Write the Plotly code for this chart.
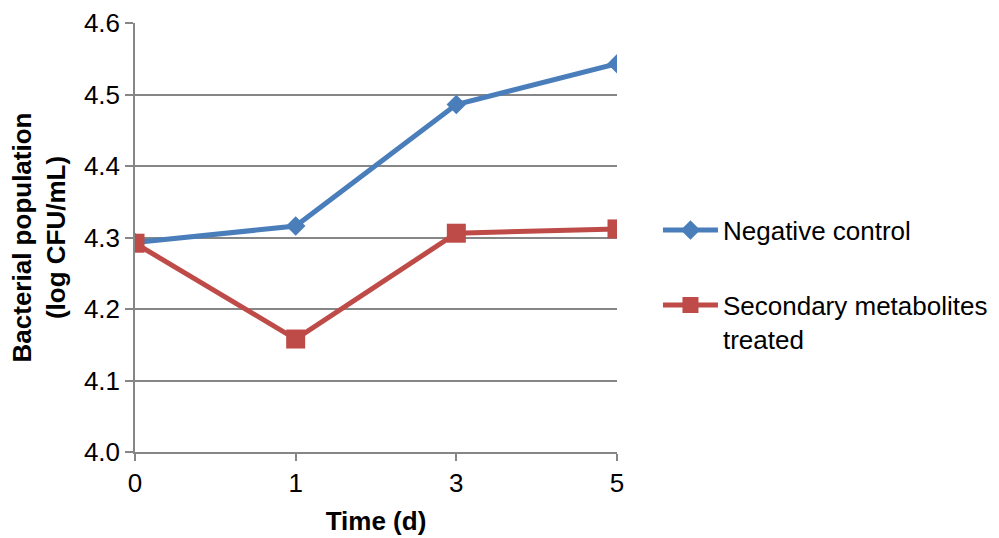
import plotly.graph_objects as go

days = ["0", "1", "3", "5"]
negative_control = [4.293, 4.316, 4.486, 4.543]
secondary_treated = [4.292, 4.158, 4.306, 4.312]
series_names = ["Negative control", "Secondary metabolites<br>treated"]
y_ticks = [4.0, 4.1, 4.2, 4.3, 4.4, 4.5, 4.6]
y_tick_labels = ["4.0", "4.1", "4.2", "4.3", "4.4", "4.5", "4.6"]

FONT = "Liberation Sans, Arial, sans-serif"
GRID = "#868686"

fig = go.Figure()
fig.add_trace(go.Scatter(
    x=days, y=negative_control, name=series_names[0], mode="lines+markers",
    line=dict(color="#4A7EBB", width=5),
    marker=dict(symbol="diamond", size=15, color="#4A7EBB"),
    legendgroup="a",
))
fig.add_trace(go.Scatter(
    x=days, y=secondary_treated, name=series_names[1], mode="lines+markers",
    line=dict(color="#BE4B48", width=5),
    marker=dict(symbol="square", size=19, color="#BE4B48"),
    legendgroup="b",
))

fig.update_layout(
    width=999, height=538,
    margin=dict(l=135, r=382, t=23, b=86, autoexpand=False),
    paper_bgcolor="white", plot_bgcolor="white",
    font=dict(family=FONT, size=26, color="#000000"),
    showlegend=True,
    legend=dict(
        x=1.085, y=0.39, xanchor="left", yanchor="middle",
        traceorder="grouped", tracegroupgap=38, valign="top",
        font=dict(size=26), itemwidth=55,
        bgcolor="rgba(0,0,0,0)",
    ),
    xaxis=dict(
        type="category", range=[0, 3], automargin=False,
        showgrid=False, showline=True, linecolor=GRID, linewidth=1.5,
        ticks="outside", ticklen=7, tickcolor=GRID, tickwidth=1.5,
        tickfont=dict(size=26),
        title=dict(text="<b>Time (d)</b>", font=dict(size=26), standoff=15),
    ),
    yaxis=dict(
        range=[4.0, 4.6], tickvals=y_ticks, ticktext=y_tick_labels,
        automargin=False,
        showgrid=True, gridcolor=GRID, gridwidth=1.5,
        showline=True, linecolor=GRID, linewidth=1.5,
        ticks="outside", ticklen=8, tickcolor=GRID, tickwidth=1.5,
        tickfont=dict(size=26), zeroline=False,
        title=dict(text="<b>Bacterial population<br>(log CFU/mL)</b>",
                   font=dict(size=26), standoff=11),
    ),
)

fig.write_html("out.html")
